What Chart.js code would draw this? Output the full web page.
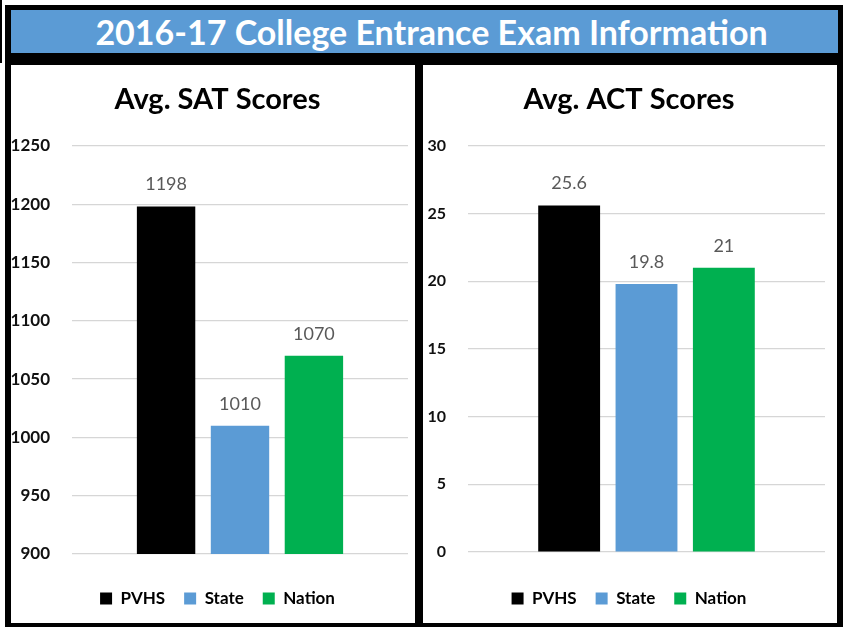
<!DOCTYPE html>
<html>
<head>
<meta charset="utf-8">
<script src="https://cdn.jsdelivr.net/npm/chart.js@4.4.1/dist/chart.umd.min.js"></script>
<style>
  html, body { margin: 0; padding: 0; background: #fff; }
  #page { position: relative; width: 846px; height: 627px; overflow: hidden; font-family: Lato, sans-serif; }
  #edge { position: absolute; left: 0; top: 0; width: 2px; height: 63px; background: #000; }
  #frame { position: absolute; left: 5px; top: 5px; width: 838px; height: 622px; background: #000; }
  #banner { position: absolute; left: 11px; top: 10px; width: 813px; height: 43px; padding-left: 14px; background: #5B9BD5;
            color: #fff; font-weight: bold; font-size: 34px; line-height: 43px; text-align: center; }
  .panel { position: absolute; top: 65px; height: 558px; background: #fff; }
  #satBox { left: 11px; width: 404px; }
  #actBox { left: 423px; width: 414px; }
</style>
</head>
<body>
<div id="page">
  <div id="edge"></div>
  <div id="frame"></div>
  <div id="banner">2016-17 College Entrance Exam Information</div>
  <div class="panel" id="satBox"><canvas id="satChart" width="404" height="558"></canvas></div>
  <div class="panel" id="actBox"><canvas id="actChart" width="414" height="558"></canvas></div>
</div>
<script>
const groups = ['PVHS', 'State', 'Nation'];
const groupColors = ['#000000', '#5B9BD5', '#00B050'];
const satScores = [1198, 1010, 1070];
const actScores = [25.6, 19.8, 21];
// min, max, step
const satRange = [900, 1250, 50];
const actRange = [0, 30, 5];

// numbers above the bars
const valueLabels = {
  id: 'valueLabels',
  afterDatasetsDraw(chart) {
    const ctx = chart.ctx;
    ctx.save();
    ctx.font = '18px Lato';
    ctx.fillStyle = '#595959';
    ctx.textAlign = 'center';
    ctx.textBaseline = 'alphabetic';
    chart.data.datasets.forEach((ds, i) => {
      chart.getDatasetMeta(i).data.forEach((bar, j) => {
        ctx.fillText(ds.data[j], bar.x, bar.y - 16);
      });
    });
    ctx.restore();
  }
};

// let the y tick labels use the left padding too (otherwise they get clipped)
const wideTicks = {
  id: 'wideTicks',
  afterLayout(chart) {
    chart.scales.y.left = 0;
  }
};

function drawScores(id, title, values, range, padLeft, axisWidth, tickSize, padRight, catPct, barPct, gapBelow) {
  new Chart(document.getElementById(id), {
    type: 'bar',
    data: {
      labels: [''],
      datasets: groups.map((g, i) => ({
        label: g,
        data: [values[i]],
        backgroundColor: groupColors[i],
        categoryPercentage: catPct,
        barPercentage: barPct
      }))
    },
    options: {
      responsive: false,
      animation: false,
      layout: { padding: { top: 0, right: padRight, bottom: 6, left: padLeft } },
      plugins: {
        title: {
          display: true,
          text: title,
          color: '#000',
          font: { family: 'Lato', size: 29, weight: 'bold' },
          padding: { top: 17, bottom: 29 }
        },
        legend: {
          position: 'bottom',
          labels: {
            color: '#000',
            font: { family: 'Lato', size: 17, weight: 'bold' },
            boxWidth: 12,
            boxHeight: 12,
            padding: 19
          }
        },
        tooltip: { enabled: false }
      },
      scales: {
        x: {
          grid: { display: false },
          border: { display: false },
          ticks: { display: false },
          afterFit: (s) => { s.height = gapBelow; }
        },
        y: {
          min: range[0],
          max: range[1],
          afterFit: (s) => { s.width = axisWidth; },
          border: { display: false },
          grid: { color: '#d6d6d6', lineWidth: 1.2, drawTicks: false },
          ticks: {
            stepSize: range[2],
            padding: 22,
            color: '#111',
            font: { family: 'Lato', size: tickSize, weight: 'bold' },
            callback: (v) => String(v)
          }
        }
      }
    },
    plugins: [valueLabels, wideTicks]
  });
}

drawScores('satChart', 'Avg. SAT Scores', satScores, satRange, 16, 45, 17, 7, 0.66, 0.79, 17);
drawScores('actChart', 'Avg. ACT Scores', actScores, actRange, 10, 35, 16, 12, 0.65, 0.80, 19);
</script>
</body>
</html>
